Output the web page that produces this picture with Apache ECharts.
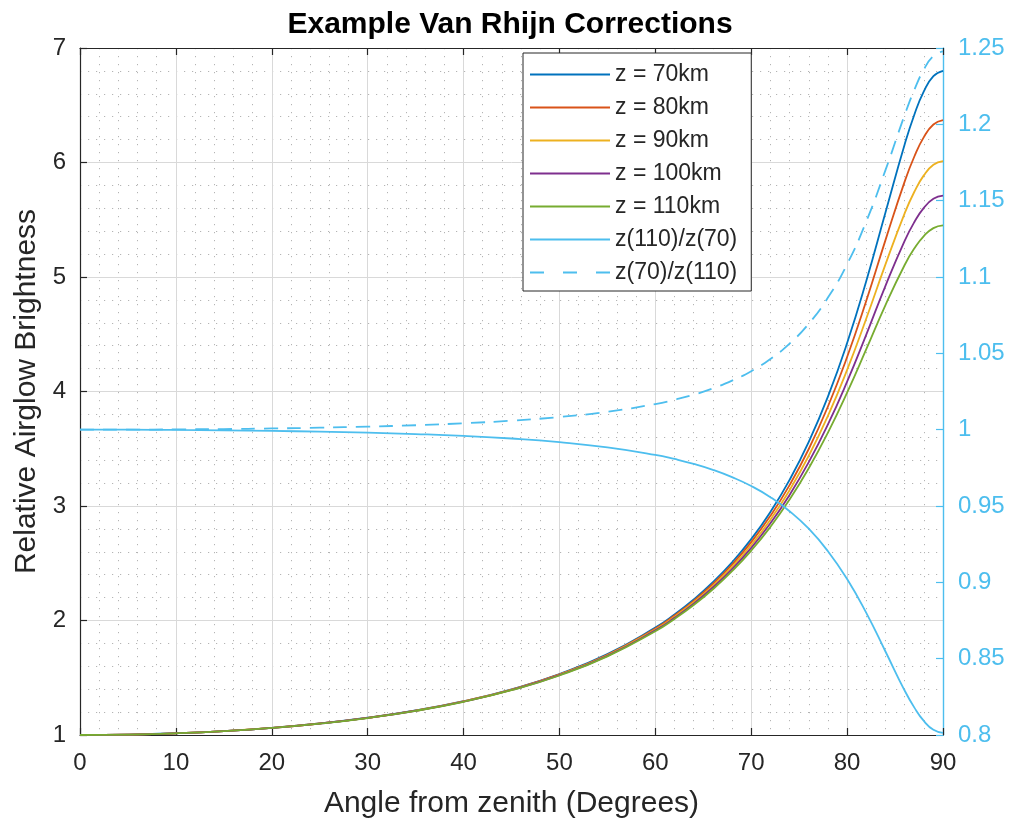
<!DOCTYPE html>
<html>
<head>
<meta charset="utf-8">
<title>Example Van Rhijn Corrections</title>
<script src="https://cdn.jsdelivr.net/npm/echarts@6/dist/echarts.min.js"></script>
<style>
  html, body { margin: 0; padding: 0; background: #ffffff; }
  #chart { width: 1015px; height: 824px; }
</style>
</head>
<body>
<div id="chart"></div>
<script>
// Zenith angle samples (degrees)
const angles = [0, 5, 10, 15, 20, 25, 30, 35, 40, 45, 50, 55, 60, 62, 64, 66, 68, 70, 72, 74, 76, 78, 80, 82, 84, 86, 87, 88, 89, 90];

// Van Rhijn factor for emission layers at several altitudes
const z70  = [1, 1.0037, 1.0151, 1.0345, 1.0627, 1.1008, 1.1506, 1.2144, 1.2956, 1.3992, 1.5324, 1.7062, 1.9381, 2.0530, 2.1841, 2.3346, 2.5085, 2.7110, 2.9483, 3.2283, 3.5606, 3.9556, 4.4229, 4.9649, 5.5636, 6.1571, 6.4153, 6.6212, 6.7549, 6.8013];
const z80  = [1, 1.0037, 1.0150, 1.0344, 1.0625, 1.1004, 1.1500, 1.2135, 1.2942, 1.3971, 1.5292, 1.7012, 1.9299, 2.0429, 2.1714, 2.3187, 2.4882, 2.6847, 2.9138, 3.1822, 3.4979, 3.8688, 4.3010, 4.7925, 5.3222, 5.8327, 6.0501, 6.2213, 6.3315, 6.3695];
const z90  = [1, 1.0037, 1.0150, 1.0343, 1.0622, 1.1001, 1.1494, 1.2126, 1.2929, 1.3951, 1.5260, 1.6963, 1.9218, 2.0329, 2.1591, 2.3031, 2.4685, 2.6593, 2.8806, 3.1382, 3.4386, 3.7879, 4.1891, 4.6375, 5.1105, 5.5558, 5.7421, 5.8874, 5.9802, 6.0121];
const z100 = [1, 1.0037, 1.0149, 1.0341, 1.0620, 1.0997, 1.1488, 1.2117, 1.2915, 1.3930, 1.5229, 1.6914, 1.9139, 2.0231, 2.1470, 2.2880, 2.4493, 2.6347, 2.8486, 3.0962, 3.3826, 3.7121, 4.0860, 4.4972, 4.9231, 5.3161, 5.4780, 5.6033, 5.6829, 5.7102];
const z110 = [1, 1.0037, 1.0149, 1.0340, 1.0618, 1.0994, 1.1483, 1.2108, 1.2902, 1.3910, 1.5198, 1.6865, 1.9061, 2.0136, 2.1351, 2.2732, 2.4306, 2.6109, 2.8179, 3.0560, 3.3294, 3.6408, 3.9902, 4.3692, 4.7551, 5.1050, 5.2483, 5.3579, 5.4271, 5.4508];

// Ratios between the highest and lowest layers (right axis)
const ratio110over70 = [1, 1.0000, 0.9998, 0.9996, 0.9992, 0.9987, 0.9980, 0.9971, 0.9959, 0.9942, 0.9918, 0.9884, 0.9835, 0.9808, 0.9776, 0.9737, 0.9689, 0.9631, 0.9558, 0.9466, 0.9351, 0.9204, 0.9022, 0.8800, 0.8547, 0.8291, 0.8181, 0.8092, 0.8034, 0.8014];
const ratio70over110 = [1, 1.0000, 1.0002, 1.0004, 1.0008, 1.0013, 1.0020, 1.0029, 1.0042, 1.0059, 1.0083, 1.0117, 1.0168, 1.0196, 1.0229, 1.0270, 1.0321, 1.0383, 1.0463, 1.0564, 1.0694, 1.0865, 1.1084, 1.1364, 1.1700, 1.2061, 1.2224, 1.2358, 1.2447, 1.2478];

const seriesNames = ['z = 70km', 'z = 80km', 'z = 90km', 'z = 100km', 'z = 110km', 'z(110)/z(70)', 'z(70)/z(110)'];
const seriesColors = ['#0072BD', '#D95319', '#EDB120', '#7E2F8E', '#77AC30', '#4DBEEE', '#4DBEEE'];

const FONT = '"Liberation Sans", Arial, Helvetica, sans-serif';
const INK = '#262626';
const RIGHT = '#4DBEEE';

// Legend swatches: a plain bar for solid lines, three short bars for the dashed one
const SOLID_ICON = 'rect';
const DASHED_ICON = 'path://M0,0h14v2h-14z M33,0h14v2h-14z M66,0h14v2h-14z';

function pairs(ys) {
  return angles.map((a, i) => [a, ys[i]]);
}

function lineSeries(idx, ys, axisIndex, dashed) {
  return {
    name: seriesNames[idx],
    type: 'line',
    yAxisIndex: axisIndex,
    data: pairs(ys),
    smooth: 0.5,
    symbol: 'none',
    showSymbol: false,
    clip: true,
    lineStyle: {
      color: seriesColors[idx],
      width: 1.8,
      type: dashed ? [14, 9] : 'solid'
    },
    itemStyle: { color: seriesColors[idx] },
    emphasis: { disabled: true },
    z: 10
  };
}

const chart = echarts.init(document.getElementById('chart'), null, { renderer: 'canvas' });

chart.setOption({
  animation: false,
  backgroundColor: '#ffffff',
  textStyle: { fontFamily: FONT },
  title: {
    text: 'Example Van Rhijn Corrections',
    left: 505,
    textAlign: 'center',
    top: 5,
    textStyle: { fontFamily: FONT, fontSize: 30, fontWeight: 'bold', color: '#000000' }
  },
  grid: { left: 80, right: 72, top: 48, bottom: 89, containLabel: false },
  legend: {
    orient: 'vertical',
    left: 523,
    top: 53,
    padding: [10, 14, 7, 7],
    itemWidth: 80,
    itemHeight: 2,
    itemGap: 10,
    symbolKeepAspect: false,
    backgroundColor: '#ffffff',
    borderColor: INK,
    borderWidth: 1,
    selectedMode: false,
    itemStyle: { borderWidth: 0 },
    textStyle: { fontFamily: FONT, fontSize: 23, color: INK, lineHeight: 23 },
    data: seriesNames.map((n, i) => ({ name: n, icon: i === 6 ? DASHED_ICON : SOLID_ICON }))
  },
  xAxis: [
    {
      type: 'value',
      min: 0,
      max: 90,
      interval: 10,
      name: 'Angle from zenith (Degrees)',
      nameLocation: 'middle',
      nameGap: 54,
      nameTextStyle: { fontFamily: FONT, fontSize: 30, color: INK },
      axisLine: { show: true, onZero: false, lineStyle: { color: INK, width: 1.2 } },
      axisTick: { show: true, inside: true, length: 7, lineStyle: { color: INK, width: 1.2 } },
      axisLabel: { fontFamily: FONT, fontSize: 24, color: INK, margin: 16 },
      splitLine: { show: true, lineStyle: { color: '#d9d9d9', width: 1 } },
      minorTick: { show: false, splitNumber: 5 },
      minorSplitLine: { show: true, lineStyle: { color: '#b4b4b4', width: 1, type: [1.2, 6.8] } }
    },
    {
      type: 'value',
      position: 'top',
      min: 0,
      max: 90,
      interval: 10,
      axisLine: { show: true, onZero: false, lineStyle: { color: INK, width: 1.2 } },
      axisTick: { show: true, inside: true, length: 7, lineStyle: { color: INK, width: 1.2 } },
      axisLabel: { show: false },
      splitLine: { show: false }
    }
  ],
  yAxis: [
    {
      type: 'value',
      position: 'left',
      min: 1,
      max: 7,
      interval: 1,
      name: 'Relative Airglow Brightness',
      nameLocation: 'middle',
      nameGap: 38,
      nameTextStyle: { fontFamily: FONT, fontSize: 30, color: INK },
      axisLine: { show: true, onZero: false, lineStyle: { color: INK, width: 1.2 } },
      axisTick: { show: true, inside: true, length: 7, lineStyle: { color: INK, width: 1.2 } },
      axisLabel: { fontFamily: FONT, fontSize: 24, color: INK, margin: 14 },
      splitLine: { show: true, lineStyle: { color: '#d9d9d9', width: 1 } },
      minorTick: { show: false, splitNumber: 5 },
      minorSplitLine: { show: true, lineStyle: { color: '#b4b4b4', width: 1, type: [1.2, 6.8] } }
    },
    {
      type: 'value',
      position: 'right',
      min: 0.8,
      max: 1.25,
      interval: 0.05,
      axisLine: { show: true, onZero: false, lineStyle: { color: RIGHT, width: 1.4 } },
      axisTick: { show: true, inside: true, length: 7, lineStyle: { color: RIGHT, width: 1.2 } },
      axisLabel: {
        fontFamily: FONT, fontSize: 24, color: RIGHT, margin: 15,
        formatter: v => String(parseFloat(v.toFixed(2)))
      },
      splitLine: { show: false }
    }
  ],
  series: [
    lineSeries(0, z70, 0, false),
    lineSeries(1, z80, 0, false),
    lineSeries(2, z90, 0, false),
    lineSeries(3, z100, 0, false),
    lineSeries(4, z110, 0, false),
    lineSeries(5, ratio110over70, 1, false),
    lineSeries(6, ratio70over110, 1, true)
  ]
});
</script>
</body>
</html>
